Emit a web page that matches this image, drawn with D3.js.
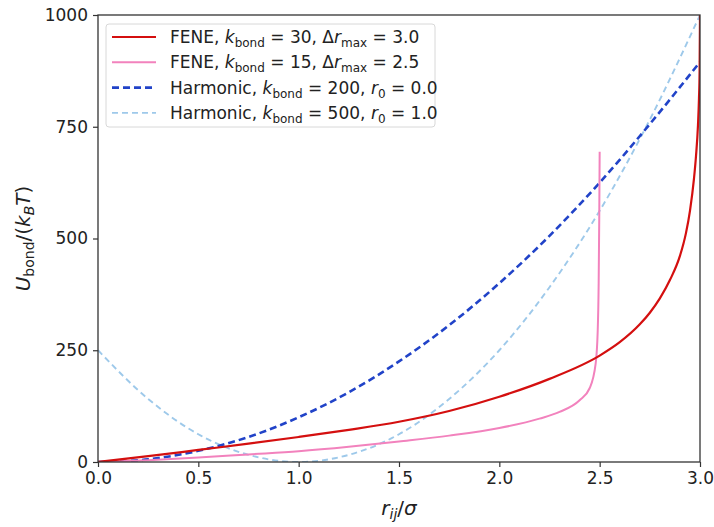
<!DOCTYPE html>
<html>
<head>
<meta charset="utf-8">
<script src="https://cdn.jsdelivr.net/npm/d3@7"></script>
<style>
body { margin: 0; background: #fff; }
text { font-family: "DejaVu Sans", sans-serif; fill: #222; }
</style>
</head>
<body>
<div id="chart"></div>
<script>
// values
var feneStrongR = [0, 0.25, 0.5, 0.75, 1.0, 1.25, 1.5, 1.75, 2.0, 2.25, 2.5, 2.6, 2.7, 2.75, 2.8, 2.85, 2.9, 2.93, 2.95, 2.97, 2.98, 2.99, 2.995, 2.998, 3.0];
var feneStrongU = [0, 13, 27, 41, 56, 72, 90, 114, 146, 186, 238, 268, 308, 334, 366, 407, 461, 512, 562, 634, 684, 754, 814, 874, 1000];

var feneSoftR = [0, 0.25, 0.5, 0.75, 1.0, 1.25, 1.5, 1.75, 2.0, 2.2, 2.3, 2.4, 2.45, 2.48, 2.49, 2.495, 2.498, 2.5];
var feneSoftU = [0, 4, 10, 17, 24, 34, 46, 59, 76, 97, 112, 138, 165, 220, 290, 400, 550, 694];

var harmR = [0, 0.25, 0.5, 0.75, 1.0, 1.25, 1.5, 1.75, 2.0, 2.25, 2.5, 2.75, 3.0];
var harmAU = [0, 6, 25, 56, 100, 156, 225, 306, 400, 506, 625, 756, 895];
var harmBU = [250, 141, 62, 16, 0, 16, 62, 141, 250, 391, 562, 766, 1000];

var xTicks = [0, 0.5, 1.0, 1.5, 2.0, 2.5, 3.0];
var yTicks = [0, 250, 500, 750, 1000];

var margin = {top: 15, right: 14, bottom: 65, left: 98},
	width = 714 - margin.left - margin.right,
	height = 527 - margin.top - margin.bottom;

var svg = d3.select("#chart")
	.append("svg")
	.attr("width", 714)
	.attr("height", 527);

var g = svg.append("g")
	.attr("transform", "translate(" + margin.left + "," + margin.top + ")");

var x = d3.scaleLinear().domain([0, 3]).range([0, width]);
var y = d3.scaleLinear().domain([0, 1000]).range([height, 0]);

g.append("clipPath").attr("id", "clip")
	.append("rect").attr("width", width).attr("height", height);

var series = [
	{r: harmR, u: harmBU, color: "#9ec9ea", w: 1.9, dash: "6,4"},
	{r: harmR, u: harmAU, color: "#2143c8", w: 2.6, dash: "7,4"},
	{r: feneSoftR, u: feneSoftU, color: "#f282bd", w: 2, dash: null},
	{r: feneStrongR, u: feneStrongU, color: "#d40f0f", w: 2.2, dash: null}
];

var line = d3.line()
	.x(d => x(d[0]))
	.y(d => y(d[1]))
	.curve(d3.curveMonotoneX);

series.forEach(function(s) {
	var pts = s.r.map((v, i) => [v, s.u[i]]);
	g.append("path")
		.datum(pts)
		.attr("clip-path", "url(#clip)")
		.attr("fill", "none")
		.attr("stroke", s.color)
		.attr("stroke-width", s.w)
		.attr("stroke-dasharray", s.dash)
		.attr("d", line);
});

// axes
var xAxis = g.append("g")
	.attr("transform", "translate(0," + height + ")")
	.call(d3.axisBottom(x).tickValues(xTicks).tickFormat(d3.format(".1f")).tickSize(5).tickPadding(5));
var yAxis = g.append("g")
	.call(d3.axisLeft(y).tickValues(yTicks).tickFormat(d3.format("d")).tickSize(5).tickPadding(5));
[xAxis, yAxis].forEach(function(a) {
	a.select(".domain").remove();
	a.selectAll("line").attr("stroke", "#333").attr("stroke-width", 1.2);
	a.selectAll("text").attr("font-size", "17px").attr("fill", "#222")
		.attr("font-family", "DejaVu Sans, sans-serif");
});

g.append("rect")
	.attr("width", width).attr("height", height)
	.attr("fill", "none").attr("stroke", "#333").attr("stroke-width", 1.3);

// axis labels
var xl = svg.append("text")
	.attr("x", margin.left + width / 2)
	.attr("y", 515)
	.attr("text-anchor", "middle")
	.attr("font-size", "20px");
xl.append("tspan").attr("font-style", "italic").text("r");
xl.append("tspan").attr("font-style", "italic").attr("font-size", "14px").attr("dy", 4).text("ij");
xl.append("tspan").attr("dy", -4).text("/");
xl.append("tspan").attr("font-style", "italic").text("σ");

var yl = svg.append("text")
	.attr("transform", "translate(30," + (margin.top + height / 2) + ") rotate(-90)")
	.attr("text-anchor", "middle")
	.attr("font-size", "20px");
yl.append("tspan").attr("font-style", "italic").text("U");
yl.append("tspan").attr("font-size", "14px").attr("dy", 4).text("bond");
yl.append("tspan").attr("dy", -4).text("/(");
yl.append("tspan").attr("font-style", "italic").text("k");
yl.append("tspan").attr("font-style", "italic").attr("font-size", "14px").attr("dy", 4).text("B");
yl.append("tspan").attr("font-style", "italic").attr("dy", -4).text("T");
yl.append("tspan").text(")");

// legend
var legendItems = [
	{color: "#d40f0f", w: 2.2, dash: null, name: "FENE", k: "30", p: "Δr", sub: "max", val: "3.0"},
	{color: "#f282bd", w: 2, dash: null, name: "FENE", k: "15", p: "Δr", sub: "max", val: "2.5"},
	{color: "#2143c8", w: 2.6, dash: "7,4", name: "Harmonic", k: "200", p: "r", sub: "0", val: "0.0"},
	{color: "#9ec9ea", w: 1.9, dash: "6,4", name: "Harmonic", k: "500", p: "r", sub: "0", val: "1.0"}
];

var lg = svg.append("g").attr("transform", "translate(106,24)");
lg.append("rect")
	.attr("width", 329).attr("height", 103)
	.attr("rx", 3).attr("ry", 3)
	.attr("fill", "#fff").attr("fill-opacity", 0.85)
	.attr("stroke", "#d8d8d8");

legendItems.forEach(function(d, i) {
	var cy = 13 + i * 25.3;
	lg.append("line")
		.attr("x1", 6).attr("x2", 50)
		.attr("y1", cy).attr("y2", cy)
		.attr("stroke", d.color).attr("stroke-width", d.w)
		.attr("stroke-dasharray", d.dash);
	var t = lg.append("text")
		.attr("x", 64).attr("y", cy + 6)
		.attr("font-size", "17px");
	t.append("tspan").text(d.name + ", ");
	t.append("tspan").attr("font-style", "italic").text("k");
	t.append("tspan").attr("font-size", "12px").attr("dy", 4).text("bond");
	t.append("tspan").attr("dy", -4).text(" = " + d.k + ", ");
	if (d.p == "Δr") {
		t.append("tspan").text("Δ");
		t.append("tspan").attr("font-style", "italic").text("r");
	} else {
		t.append("tspan").attr("font-style", "italic").text("r");
	}
	t.append("tspan").attr("font-size", "12px").attr("dy", 4).text(d.sub);
	t.append("tspan").attr("dy", -4).text(" = " + d.val);
});
</script>
</body>
</html>
